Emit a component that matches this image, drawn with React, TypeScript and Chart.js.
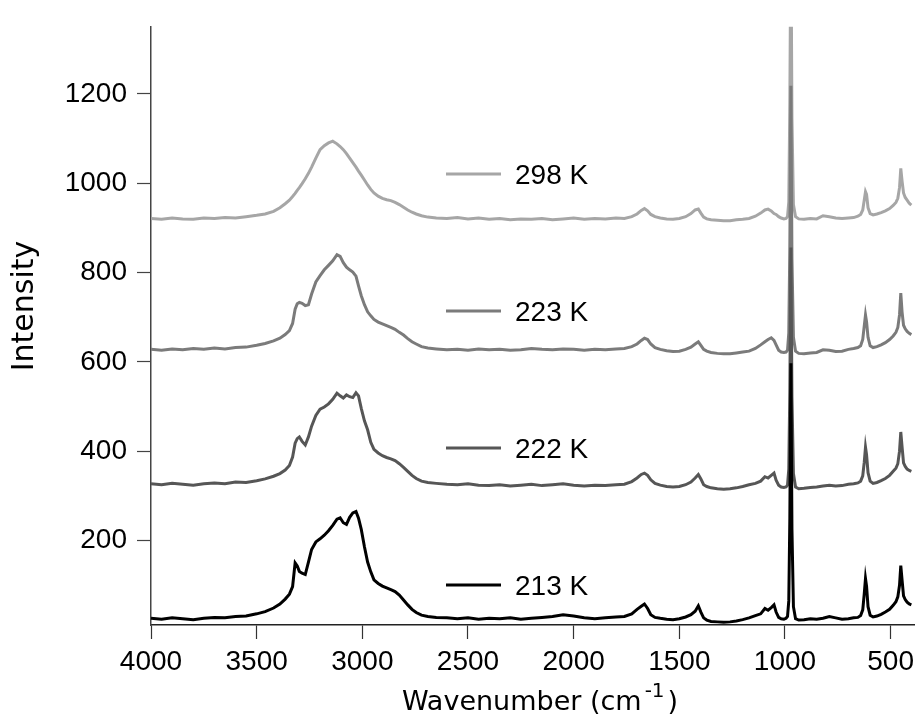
import React, { useEffect, useRef } from 'react';
import { Chart, registerables } from 'chart.js';

Chart.register(...registerables);

// wavenumber grid (cm-1), high to low
const wavenumbers = [
  4000, 3950, 3900, 3850, 3800, 3750, 3700, 3650, 3600, 3550,
  3500, 3460, 3420, 3390, 3365, 3345, 3330, 3318, 3308, 3298,
  3285, 3270, 3255, 3240, 3220, 3200, 3180, 3160, 3140, 3120,
  3105, 3090, 3075, 3060, 3045, 3030, 3018, 3005, 2990, 2975,
  2960, 2945, 2925, 2905, 2885, 2865, 2845, 2825, 2805, 2785,
  2765, 2745, 2720, 2690, 2650, 2600, 2550, 2500, 2450, 2400,
  2350, 2300, 2250, 2200, 2150, 2100, 2050, 2000, 1950, 1900,
  1850, 1800, 1760, 1725, 1700, 1680, 1665, 1650, 1635, 1615,
  1590, 1560, 1530, 1500, 1470, 1445, 1425, 1410, 1398, 1385,
  1370, 1350, 1320, 1290, 1260, 1230, 1200, 1170, 1140, 1115,
  1095, 1080, 1065, 1052, 1042, 1030, 1018, 1005, 995, 988,
  982, 977, 972, 967, 960, 950, 935, 910, 880, 850,
  820, 790, 760, 730, 700, 675, 655, 642, 632, 625,
  619, 614, 607, 597, 583, 565, 545, 525, 505, 488,
  475, 466, 458, 452, 446, 439, 431, 422, 412, 402,
];

const k298 = [
  921, 919, 922, 920, 919, 922, 921, 923, 922, 925,
  928, 931, 937, 945, 954, 962, 970, 977, 984, 990,
  999, 1010, 1022, 1036, 1056, 1075, 1084, 1090, 1094, 1088,
  1082, 1075, 1066, 1056, 1046, 1036, 1027, 1018, 1007, 996,
  986, 978, 971, 966, 963, 961, 957, 952, 946, 940,
  935, 931, 927, 924, 922, 921, 923, 920, 922, 919,
  921, 918, 920, 919, 921, 918, 920, 922, 919, 921,
  920, 922, 921, 925, 931, 939, 943, 938, 930, 925,
  922, 920, 919, 921, 925, 932, 940, 942, 933, 924,
  920, 918, 917, 916, 916, 918, 919, 921, 926, 933,
  940, 942, 938, 932, 930, 925, 922, 920, 921, 925,
  958, 1180, 1570, 1145, 952, 925, 920, 919, 921, 920,
  927, 925, 922, 921, 922, 923, 926, 930, 940, 962,
  981, 975, 945, 932, 929, 931, 934, 938, 943, 950,
  957, 966, 990, 1033, 1005, 978, 968, 962, 955, 951,
];

const k223 = [
  628, 626, 629, 627, 630, 628, 631, 629, 632, 633,
  637, 641, 647, 653, 661, 670, 686, 718, 730, 733,
  731, 726, 728, 752, 779, 793, 806, 816, 826, 840,
  836, 822, 812, 806, 801, 792, 770, 748, 728, 712,
  703, 695, 689, 685, 681, 677, 673, 666, 660, 652,
  645, 640, 634, 631, 629, 627, 628, 626, 629, 627,
  628, 626, 627, 630, 628, 627, 629, 628, 626, 628,
  627, 629, 630, 634, 640, 648, 653, 650, 640, 632,
  628, 625, 623, 624, 628, 633, 640, 645, 637, 628,
  624, 621, 619, 618, 618, 620, 622, 624, 630, 638,
  645, 650, 654, 648, 638, 626, 622, 621, 622, 626,
  665, 860, 1218, 830, 655, 624, 619, 618, 620, 621,
  627, 626, 623, 624, 628, 630, 632, 636, 650, 680,
  705, 690, 655, 636, 632, 634, 638, 643, 650, 658,
  666, 677, 705, 754, 712, 682, 674, 668, 664, 661,
];

const k222 = [
  327, 325, 328, 326, 324, 327, 329, 327, 331, 330,
  334, 338, 344, 350, 358, 368, 387, 418, 428, 432,
  422, 414, 432, 456, 480, 494, 499, 506, 516, 530,
  524, 519, 526, 522, 520, 531, 524, 496, 468, 448,
  420, 404, 396, 390, 386, 383, 379, 372, 364, 355,
  346, 339, 333, 330, 328, 326, 325, 327, 324, 323,
  325, 322, 324, 326, 323, 325, 327, 324, 322, 324,
  323, 325, 326, 332, 340, 348, 351, 346, 336, 328,
  324, 321, 320, 321, 325, 331, 340, 348, 338, 325,
  321, 318, 316, 315, 316, 318, 321, 325, 328, 333,
  343, 340, 346, 351, 335, 324, 320, 319, 320, 324,
  360, 540, 856, 520, 350, 320, 316, 317, 319, 320,
  322, 324, 322, 323, 326, 327, 329, 333, 345, 375,
  409, 392, 352, 333, 328, 330, 334, 339, 346, 355,
  362, 372, 400, 443, 410, 374, 366, 360, 357, 355,
];

const k213 = [
  26, 24, 27, 25, 23, 26, 28, 27, 30, 31,
  36, 41, 49, 58, 69, 80, 97, 150, 143, 131,
  127, 124, 152, 180, 197, 204, 212, 222, 234, 248,
  251, 240, 236, 252, 262, 265, 250, 225, 186, 152,
  130, 112, 104, 98, 94, 90, 86, 78, 67, 56,
  46, 39, 33, 30, 28, 27, 25, 27, 24, 26,
  25, 27, 24, 26, 28, 30, 34, 31, 27, 25,
  27, 29, 30, 36, 46, 53, 58, 48, 34, 28,
  26, 24, 23, 25, 29, 34, 42, 54, 40, 27,
  22, 19, 18, 17, 18, 20, 23, 27, 32, 36,
  48, 44, 50, 56, 40, 28, 25, 24, 26, 30,
  65, 250, 597, 225, 52, 25, 22, 23, 25, 24,
  26, 30, 27, 24, 25, 27, 28, 32, 45, 80,
  115, 98, 52, 33, 29, 31, 35, 40, 46, 55,
  63, 74, 100, 144, 112, 76, 68, 62, 58, 56,
];

// legend order, top to bottom
const seriesLabels = ['298 K', '223 K', '222 K', '213 K'];
const seriesValues = [k298, k223, k222, k213];
const seriesColors = ['#a6a6a6', '#7b7b7b', '#565656', '#000000'];

const xTicks = [4000, 3500, 3000, 2500, 2000, 1500, 1000, 500];
const yTicks = [200, 400, 600, 800, 1000, 1200];

const tickFont = { family: '"Liberation Sans", Arial, sans-serif', size: 28 };

// inline legend + axis titles (superscript needs manual drawing)
const annotations = {
  id: 'annotations',
  afterDraw(chart: Chart) {
    const { ctx } = chart;
    ctx.save();

    seriesLabels.forEach((label, i) => {
      const y = 174 + i * 137;
      ctx.strokeStyle = seriesColors[i];
      ctx.lineWidth = 3;
      ctx.beginPath();
      ctx.moveTo(446, y);
      ctx.lineTo(501, y);
      ctx.stroke();
      ctx.fillStyle = '#000';
      ctx.font = '28px "Liberation Sans", Arial, sans-serif';
      ctx.textAlign = 'left';
      ctx.textBaseline = 'alphabetic';
      ctx.fillText(label, 515, y + 10);
    });

    // x title
    ctx.fillStyle = '#000';
    ctx.textBaseline = 'alphabetic';
    ctx.textAlign = 'left';
    const mainFont = '27px "DejaVu Sans", sans-serif';
    const supFont = '20px "DejaVu Sans", sans-serif';
    ctx.font = mainFont;
    const main = 'Wavenumber (cm';
    const w1 = ctx.measureText(main).width;
    ctx.font = supFont;
    const w2 = ctx.measureText('-1').width;
    ctx.font = mainFont;
    const w3 = ctx.measureText(')').width;
    const total = w1 + 3 + w2 + 3 + w3;
    let x = 540 - total / 2;
    ctx.fillText(main, x, 710);
    x += w1 + 3;
    ctx.font = supFont;
    ctx.fillText('-1', x, 697);
    x += w2 + 3;
    ctx.font = mainFont;
    ctx.fillText(')', x, 710);

    // y title
    ctx.translate(33, 306);
    ctx.rotate(-Math.PI / 2);
    ctx.font = '30px "DejaVu Sans", sans-serif';
    ctx.textAlign = 'center';
    ctx.fillText('Intensity', 0, 0);

    ctx.restore();
  },
};

const App: React.FC = () => {
  const chartRef = useRef<HTMLCanvasElement>(null);

  useEffect(() => {
    if (!chartRef.current) return;

    // draw lower traces last so they sit on top of the higher ones
    const datasets = seriesLabels
      .map((label, i) => ({
        label,
        data: wavenumbers.map((w, j) => ({ x: w, y: seriesValues[i][j] })),
        borderColor: seriesColors[i],
        borderWidth: 3,
        pointRadius: 0,
        tension: 0,
        fill: false,
      }))
      .reverse();

    const chart = new Chart(chartRef.current, {
      type: 'line',
      data: { datasets },
      options: {
        animation: false,
        responsive: true,
        maintainAspectRatio: false,
        layout: { padding: { top: 11, right: 0, left: 0, bottom: 0 } },
        plugins: {
          legend: { display: false },
          tooltip: { enabled: false },
        },
        scales: {
          x: {
            type: 'linear',
            reverse: true,
            min: 387,
            max: 4000,
            afterBuildTicks: (scale: any) => {
              scale.ticks = xTicks.map((v) => ({ value: v }));
            },
            afterFit: (scale: any) => {
              scale.height = 91;
            },
            ticks: {
              font: tickFont,
              color: '#000',
              padding: 6,
              maxRotation: 0,
              autoSkip: false,
              callback: (v: any) => String(v),
            },
            grid: {
              drawOnChartArea: false,
              tickLength: 14,
              tickColor: '#333',
              tickWidth: 1.2,
            },
            border: { display: true, color: '#222', width: 1.5 },
          },
          y: {
            type: 'linear',
            min: 11,
            max: 1350,
            afterBuildTicks: (scale: any) => {
              scale.ticks = yTicks.map((v) => ({ value: v }));
            },
            afterFit: (scale: any) => {
              scale.width = 151;
            },
            ticks: {
              font: tickFont,
              color: '#000',
              padding: 10,
              callback: (v: any) => String(v),
            },
            grid: {
              drawOnChartArea: false,
              tickLength: 14,
              tickColor: '#444',
              tickWidth: 1.2,
            },
            border: { display: true, color: '#444', width: 1.5 },
          },
        },
      },
      plugins: [annotations],
    });

    return () => {
      chart.destroy();
    };
  }, []);

  return (
    <div style={{ position: 'absolute', left: 0, top: 0, width: 920, height: 716 }}>
      <canvas ref={chartRef} />
    </div>
  );
};

export default App;
